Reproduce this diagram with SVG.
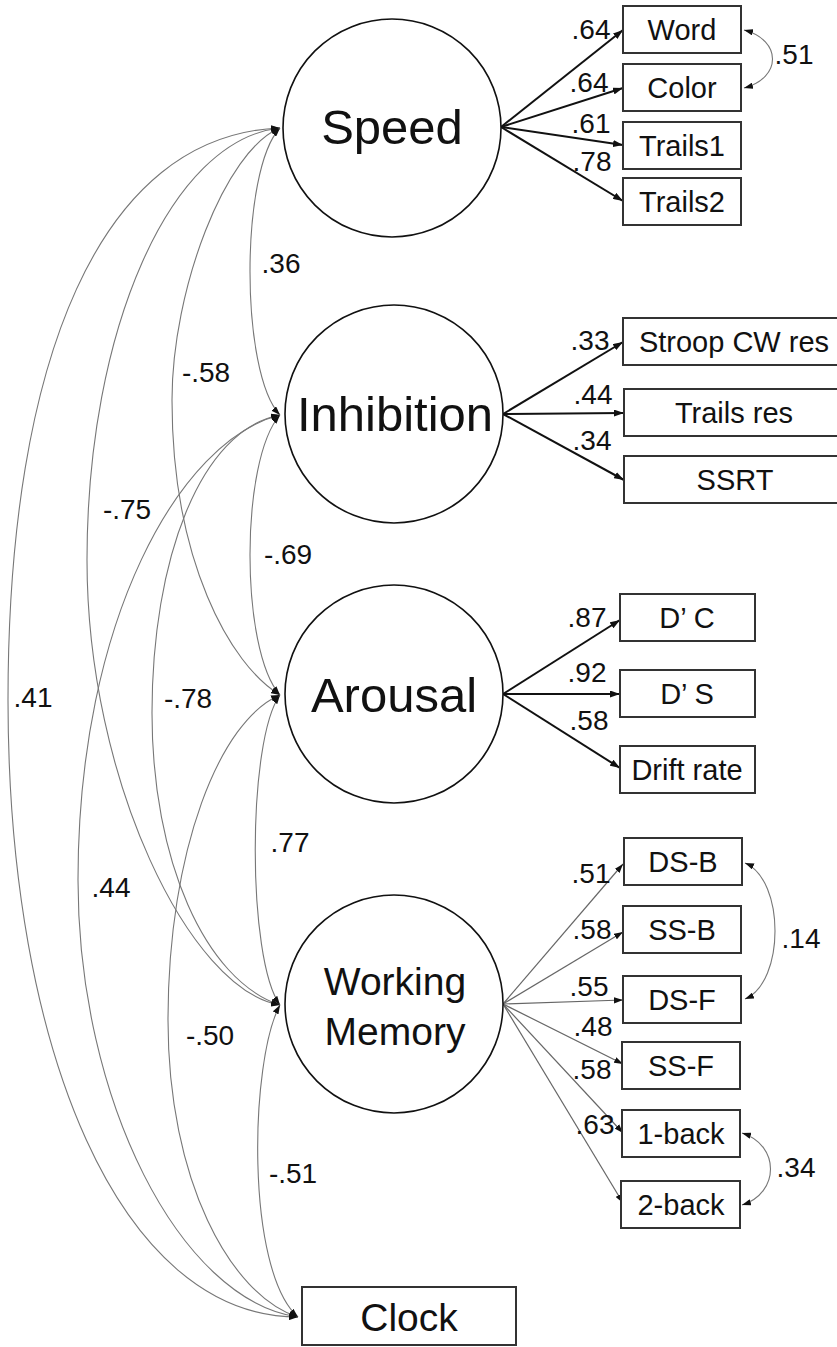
<svg xmlns="http://www.w3.org/2000/svg" width="837" height="1347" viewBox="0 0 837 1347">
<defs>
<style>
text{font-family:"Liberation Sans",Arial,sans-serif;fill:#111}
.lat{fill:#fff;stroke:#111;stroke-width:1.6}
.box{fill:#fff;stroke:#333;stroke-width:2}
.fac{font-size:49px;text-anchor:middle}
.wm{font-size:39px;text-anchor:middle}
.bt{font-size:29px;text-anchor:middle}
.lb{font-size:28px;text-anchor:middle}
.load{fill:none;stroke:#111;stroke-width:2;marker-end:url(#ah)}
.loadw{fill:none;stroke:#666;stroke-width:1.2;marker-end:url(#ahs)}
.cov{fill:none;stroke:#777;stroke-width:1.1;marker-start:url(#ahs);marker-end:url(#ahs)}
</style>
<marker id="ah" viewBox="0 0 10 7" refX="10" refY="3.5" markerWidth="10" markerHeight="7" markerUnits="userSpaceOnUse" orient="auto-start-reverse"><path d="M0,0 L10,3.5 L0,7 z" fill="#111"/></marker>
<marker id="ahs" viewBox="0 0 10 7" refX="10" refY="3.5" markerWidth="9" markerHeight="6.5" markerUnits="userSpaceOnUse" orient="auto-start-reverse"><path d="M0,0 L10,3.5 L0,7 z" fill="#111"/></marker>
</defs>
<rect width="837" height="1347" fill="#fff"/>

<g id="connectors">
<path class="cov" d="M280,128 C240,170 240,373 280,415"/>
<path class="cov" d="M280,128 C225,150 172,290 172,400 C172,560 230,665 280,695"/>
<path class="cov" d="M280,128 C170,140 87,330 87,560 C87,780 190,990 280,1005"/>
<path class="cov" d="M280,128 C100,135 8,360 8,700 C8,1050 120,1317 298,1317"/>
<path class="cov" d="M280,415 C240,460 240,650 280,695"/>
<path class="cov" d="M280,415 C200,430 152,560 152,713 C152,860 205,980 280,1005"/>
<path class="cov" d="M280,415 C180,440 78,620 78,880 C78,1100 180,1300 298,1317"/>
<path class="cov" d="M280,695 C247,740 247,960 280,1005"/>
<path class="cov" d="M280,695 C220,720 168,850 168,1020 C168,1180 230,1295 298,1317"/>
<path class="cov" d="M280,1005 C250,1060 245,1270 298,1317"/>
<path class="cov" d="M744,30 C782,40 782,78 744,88"/>
<path class="cov" d="M745,863 C785,880 785,982 745,999"/>
<path class="cov" d="M742,1133 C780,1145 780,1193 742,1205"/>
<path class="load" d="M501,127 L623,30"/>
<path class="load" d="M501,127 L623,88"/>
<path class="load" d="M501,127 L623,145"/>
<path class="load" d="M501,127 L623,201"/>
<path class="load" d="M503,414 L623,342"/>
<path class="load" d="M503,414 L624,413"/>
<path class="load" d="M503,414 L624,480"/>
<path class="load" d="M503,694 L620,620"/>
<path class="load" d="M503,694 L620,694"/>
<path class="load" d="M503,694 L620,768"/>
<path class="loadw" d="M503,1004 L623,864"/>
<path class="loadw" d="M503,1004 L623,932"/>
<path class="loadw" d="M503,1004 L623,1000"/>
<path class="loadw" d="M503,1004 L623,1064"/>
<path class="loadw" d="M503,1004 L623,1133"/>
<path class="loadw" d="M503,1004 L623,1203"/>
</g>

<g id="connector-labels">
<text class="lb" x="281" y="273">.36</text>
<text class="lb" x="206" y="382">-.58</text>
<text class="lb" x="127" y="519">-.75</text>
<text class="lb" x="288" y="564">-.69</text>
<text class="lb" x="33" y="707">.41</text>
<text class="lb" x="188" y="708">-.78</text>
<text class="lb" x="290" y="852">.77</text>
<text class="lb" x="111" y="897">.44</text>
<text class="lb" x="210" y="1045">-.50</text>
<text class="lb" x="293" y="1183">-.51</text>
<text class="lb" x="591" y="39">.64</text>
<text class="lb" x="589" y="92">.64</text>
<text class="lb" x="591" y="133">.61</text>
<text class="lb" x="592" y="171">.78</text>
<text class="lb" x="794" y="64">.51</text>
<text class="lb" x="590" y="350">.33</text>
<text class="lb" x="593" y="404">.44</text>
<text class="lb" x="592" y="450">.34</text>
<text class="lb" x="587" y="627">.87</text>
<text class="lb" x="587" y="682">.92</text>
<text class="lb" x="589" y="730">.58</text>
<text class="lb" x="591" y="883">.51</text>
<text class="lb" x="592" y="939">.58</text>
<text class="lb" x="589" y="996">.55</text>
<text class="lb" x="593" y="1036">.48</text>
<text class="lb" x="592" y="1079">.58</text>
<text class="lb" x="595" y="1134">.63</text>
<text class="lb" x="801" y="948">.14</text>
<text class="lb" x="796" y="1177">.34</text>
</g>

<g id="speed"><ellipse class="lat" cx="392" cy="128" rx="109" ry="109"/><text class="fac" x="392" y="144">Speed</text></g>
<g id="inhibition"><ellipse class="lat" cx="394" cy="414" rx="109" ry="109"/><text class="fac" x="395" y="431">Inhibition</text></g>
<g id="arousal"><ellipse class="lat" cx="394" cy="694" rx="109" ry="109"/><text class="fac" x="394" y="712">Arousal</text></g>
<g id="working-memory"><ellipse class="lat" cx="394" cy="1004" rx="109" ry="109"/><text class="wm" x="395" y="995">Working</text><text class="wm" x="395" y="1045">Memory</text></g>
<g id="clock"><rect class="box" x="302" y="1287" width="214" height="58"/><text class="wm" x="409" y="1331">Clock</text></g>

<g id="word"><rect class="box" x="623" y="6" width="118" height="47"/><text class="bt" x="682" y="40">Word</text></g>
<g id="color"><rect class="box" x="623" y="64" width="118" height="47"/><text class="bt" x="682" y="98">Color</text></g>
<g id="trails1"><rect class="box" x="623" y="122" width="118" height="47"/><text class="bt" x="682" y="156">Trails1</text></g>
<g id="trails2"><rect class="box" x="623" y="178" width="118" height="47"/><text class="bt" x="682" y="212">Trails2</text></g>

<g id="stroop-cw-res"><rect class="box" x="623" y="318" width="226" height="47"/><text class="bt" x="734" y="352">Stroop CW res</text></g>
<g id="trails-res"><rect class="box" x="624" y="389" width="226" height="47"/><text class="bt" x="734" y="423">Trails res</text></g>
<g id="ssrt"><rect class="box" x="624" y="456" width="226" height="47"/><text class="bt" x="735" y="490">SSRT</text></g>

<g id="d-c"><rect class="box" x="620" y="594" width="135" height="47"/><text class="bt" x="687" y="628">D’ C</text></g>
<g id="d-s"><rect class="box" x="620" y="670" width="135" height="47"/><text class="bt" x="687" y="704">D’ S</text></g>
<g id="drift-rate"><rect class="box" x="620" y="746" width="135" height="47"/><text class="bt" x="687" y="780">Drift rate</text></g>

<g id="ds-b"><rect class="box" x="624" y="838" width="118" height="47"/><text class="bt" x="683" y="872">DS-B</text></g>
<g id="ss-b"><rect class="box" x="623" y="906" width="118" height="47"/><text class="bt" x="682" y="940">SS-B</text></g>
<g id="ds-f"><rect class="box" x="623" y="976" width="118" height="47"/><text class="bt" x="682" y="1010">DS-F</text></g>
<g id="ss-f"><rect class="box" x="622" y="1042" width="118" height="47"/><text class="bt" x="681" y="1076">SS-F</text></g>
<g id="one-back"><rect class="box" x="622" y="1110" width="118" height="47"/><text class="bt" x="681" y="1144">1-back</text></g>
<g id="two-back"><rect class="box" x="621" y="1181" width="119" height="47"/><text class="bt" x="681" y="1215">2-back</text></g>
</svg>
